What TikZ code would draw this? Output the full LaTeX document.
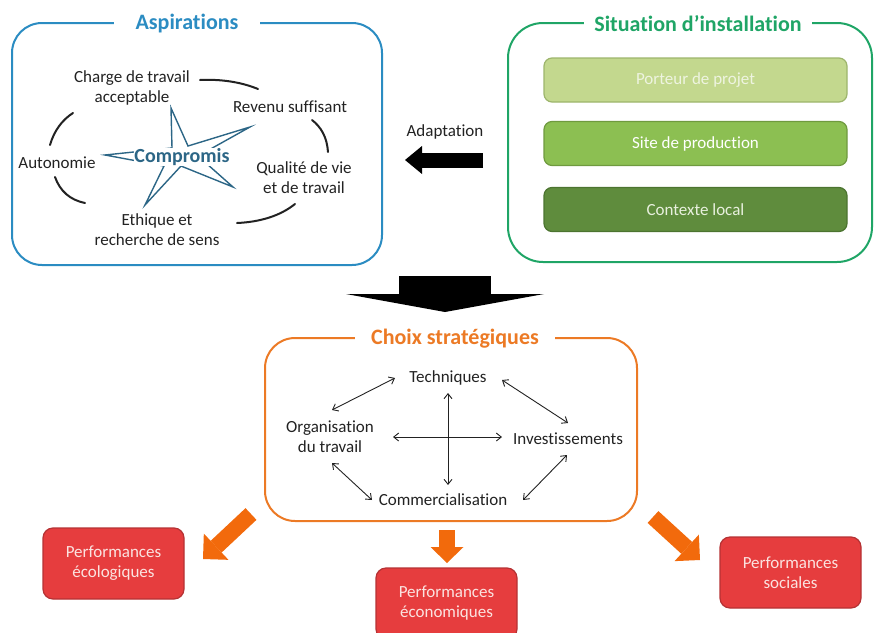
\documentclass[tikz,border=0pt]{standalone}
\usepackage{fontspec}
\setmainfont{Carlito}[Ligatures=NoCommon]
\usetikzlibrary{arrows.meta,calc}
\definecolor{aspblue}{HTML}{2B8CC2}
\definecolor{sitgreen}{HTML}{1FA566}
\definecolor{choixor}{HTML}{EC7A25}
\definecolor{arrowor}{HTML}{F26A0C}
\definecolor{startc}{HTML}{2C6686}
\definecolor{txtc}{HTML}{222222}
\definecolor{g1f}{HTML}{C3D88E}\definecolor{g1d}{HTML}{9DB56C}\definecolor{g1t}{HTML}{EEF4E0}
\definecolor{g2f}{HTML}{8CBF52}\definecolor{g2d}{HTML}{6F9A3F}
\definecolor{g3f}{HTML}{5F8C3D}\definecolor{g3d}{HTML}{4C7430}\definecolor{g3t}{HTML}{E8F0DE}
\definecolor{redf}{HTML}{E63D3E}\definecolor{redd}{HTML}{B53234}\definecolor{redt}{HTML}{FBE3E0}
\begin{document}
\begin{tikzpicture}[x=1pt,y=-1pt,
  txt/.style={font=\fontsize{17}{20}\selectfont, text=txtc, align=center, inner sep=1pt},
  ttl/.style={font=\bfseries\fontsize{22}{24}\selectfont, fill=white, inner ysep=2pt},
  bar/.style={draw, rounded corners=8pt, minimum width=303pt, minimum height=44pt, line width=1.2pt, font=\fontsize{17}{20}\selectfont},
  perf/.style={draw=redd, fill=redf, rounded corners=10pt, minimum width=141pt, minimum height=71pt, line width=1.2pt, text=redt, align=center, font=\fontsize{17}{20}\selectfont},
  biarrow/.style={{Straight Barb[length=5pt,width=8pt]}-{Straight Barb[length=5pt,width=8pt]}, line width=0.9pt, draw=txtc},
  arcl/.style={line width=2pt, draw=txtc, line cap=round},
  orarrow/.style={draw=arrowor, line width=16pt, -{Triangle[length=18pt,width=36pt,line width=0pt]}}
]
\useasboundingbox (0,0) rectangle (875,632);

% ---------- Aspirations ----------
\node[draw=aspblue, line width=2pt, rounded corners=30pt, minimum width=370pt, minimum height=242pt] (asp) at (197,144) {};
\node[ttl, text=aspblue, inner xsep=22pt] (asptitle) at (187,24) {Aspirations};

\node[txt] (charge) at (132,88) {Charge de travail\\acceptable};
\node[txt] (revenu) at (290,107) {Revenu suffisant};
\node[txt] (auto) at (57,163) {Autonomie};
\node[txt] (qual) at (304,178) {Qualité de vie\\et de travail};
\node[txt] (eth) at (157,230) {Ethique et\\recherche de sens};

\draw[arcl] ($(charge)+(68,-8)$) .. controls (221,79) and (241,82) .. ($(revenu)+(-32,-18)$);
\draw[arcl] ($(revenu)+(22,13)$) .. controls (321,127) and (327,137) .. ($(qual)+(24,-26)$);
\draw[arcl] ($(qual)+(-9,26)$) .. controls (280,216) and (260,222) .. ($(eth)+(80,-7)$);
\draw[arcl] ($(eth)+(-72,-27)$) .. controls (70,200) and (60,191) .. ($(auto)+(-2,14)$);
\draw[arcl] ($(auto)+(-7,-18)$) .. controls (54,131) and (62,120) .. ($(charge)+(-59,25)$);

\draw[startc, line width=1.4pt, line join=miter]
  (171,108) -- (188,146) -- (250,127) -- (198,156) -- (233,187) -- (181,166)
  -- (145,205) -- (164,166) -- (105,155) -- (172,148) -- cycle;
\node[font=\bfseries\fontsize{20}{22}\selectfont, text=startc, fill=white, inner sep=0.5pt] (comp) at (182,157) {Compromis};

% ---------- Situation ----------
\node[draw=sitgreen, line width=2pt, rounded corners=35pt, minimum width=364pt, minimum height=239pt] (sit) at (690,142.5) {};
\node[ttl, text=sitgreen, inner xsep=10pt] (sittitle) at (698,24) {Situation d’installation};

\node[bar, draw=g1d, fill=g1f, text=g1t] (porteur) at (695.5,80) {Porteur de projet};
\node[bar, draw=g2d, fill=g2f, text=white] (site) at (695.5,143.5) {Site de production};
\node[bar, draw=g3d, fill=g3f, text=g3t] (ctx) at (695.5,209.5) {Contexte local};

\node[txt] (adapt) at (445,132) {Adaptation};
\draw[black, line width=15pt, -{Triangle[length=17pt,width=28pt,line width=0pt]}]
  ($(sit.west)+(-24,17.5)$) -- ($(asp.east)+(22,16)$);

% ---------- Choix stratégiques ----------
\node[draw=choixor, line width=2pt, rounded corners=30pt, minimum width=372pt, minimum height=183pt] (choix) at (451,429.5) {};
\node[ttl, text=choixor, inner xsep=16pt] (choixtitle) at (455,339) {Choix stratégiques};

\draw[black, line width=92pt, -{Triangle[length=18pt,width=198pt,line width=0pt]}]
  ($(choix.north)+(-6,-61)$) -- ($(choix.north)+(-6,-25)$);

\node[txt] (tech) at (448,378) {Techniques};
\node[txt] (org) at (330,437) {Organisation\\du travail};
\node[txt] (inv) at (568,439) {Investissements};
\node[txt] (comm) at (443,500) {Commercialisation};

\draw[biarrow] ($(tech)+(-53,0)$) -- ($(org)+(2,-27)$);
\draw[biarrow] ($(tech)+(54,2)$) -- ($(inv)+(0,-16)$);
\draw[biarrow] ($(org)+(63,0)$) -- ($(inv)+(-66,-2)$);
\draw[biarrow] ($(tech)+(0,15)$) -- ($(comm)+(5,-15)$);
\draw[biarrow] ($(org)+(2,26)$) -- ($(comm)+(-71,0)$);
\draw[biarrow] ($(inv)+(-1,16)$) -- ($(comm)+(80,0)$);

% ---------- Performances ----------
\node[perf] (ecol) at (113.5,563.5) {Performances\\écologiques};
\node[perf] (econ) at (446.5,603.5) {Performances\\économiques};
\node[perf] (soc) at (790.5,572.5) {Performances\\sociales};

\draw[orarrow] ($(choix)+(-200,84.5)$) -- ($(ecol)+(89.5,-4.5)$);
\draw[orarrow, -{Triangle[length=16pt,width=33pt,line width=0pt]}] ($(choix)+(-4,100.5)$) -- ($(econ)+(0.5,-40.5)$);
\draw[orarrow] ($(choix)+(202,87.5)$) -- ($(soc)+(-90.5,-12.5)$);
\end{tikzpicture}
\end{document}
